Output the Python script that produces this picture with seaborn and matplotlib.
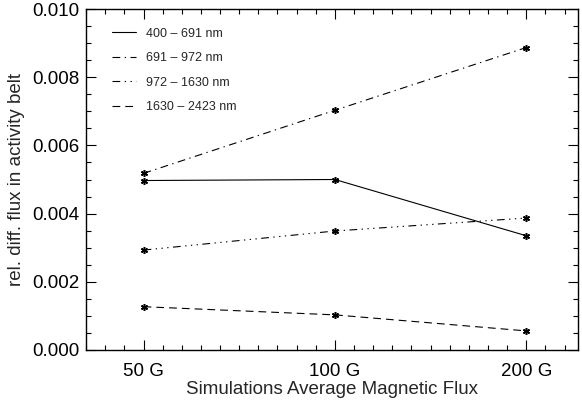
import numpy as np
import pandas as pd
import matplotlib
matplotlib.use("Agg")
import matplotlib.pyplot as plt
from matplotlib.ticker import MultipleLocator
import seaborn as sns

# data
fields = ["50 G", "100 G", "200 G"]
band_400_691 = [0.00497, 0.00500, 0.00335]
band_691_972 = [0.00518, 0.00703, 0.00887]
band_972_1630 = [0.00293, 0.00349, 0.00387]
band_1630_2423 = [0.00127, 0.00103, 0.00056]
labels = ["400 – 691 nm", "691 – 972 nm", "972 – 1630 nm", "1630 – 2423 nm"]

series = [band_400_691, band_691_972, band_972_1630, band_1630_2423]
# IDL-like line styles: solid, dash dot, dash dot dot dot, dashed
dash_styles = ["-", (0, (7, 4, 1.2, 4)), (0, (7, 4, 1.2, 4, 1.2, 4, 1.2, 4)), (0, (7, 4.5))]

sns.set_style("ticks")
plt.rcParams["font.family"] = ["Liberation Sans", "DejaVu Sans"]

fig = plt.figure(figsize=(5.82, 4.0), dpi=100)
ax = fig.add_axes([0.148, 0.125, 0.845, 0.8525])

for vals, lab, ls in zip(series, labels, dash_styles):
    df = pd.DataFrame({"field": fields, "flux": vals})
    sns.lineplot(data=df, x="field", y="flux", ax=ax, color="black",
                 linewidth=0.8, linestyle=ls, label=lab, sort=False,
                 marker=(6, 2, 0), markersize=5, markeredgewidth=1.1,
                 markeredgecolor="black")

ax.set_xlim(-0.3, 2.27)
ax.set_ylim(0.0, 0.010)
ax.yaxis.set_major_locator(MultipleLocator(0.002))
ax.yaxis.set_minor_locator(MultipleLocator(0.0005))
ax.xaxis.set_minor_locator(MultipleLocator(0.1))
ax.yaxis.set_major_formatter(matplotlib.ticker.FormatStrFormatter("%.3f"))

ax.tick_params(which="both", direction="in", top=True, right=True,
               colors="black", width=0.8, labelsize=13.5)
ax.tick_params(axis="y", which="major", length=7, pad=5)
ax.tick_params(axis="y", which="minor", length=3.5)
ax.tick_params(axis="x", which="major", length=7, pad=9)
ax.tick_params(axis="x", which="minor", length=3.5)
for s in ax.spines.values():
    s.set_linewidth(1.0)
    s.set_color("black")

ax.set_xlabel("Simulations Average Magnetic Flux", fontsize=13.5, labelpad=1)
ax.set_ylabel("rel. diff. flux in activity belt", fontsize=13.5, labelpad=5)

leg = ax.legend(loc="upper left", bbox_to_anchor=(0.043, 0.96), frameon=False,
                fontsize=9, handlelength=1.9, handletextpad=0.8,
                labelspacing=1.0, borderaxespad=0)
for h in leg.legend_handles:
    h.set_marker("")

fig.savefig("out.png", dpi=100)
